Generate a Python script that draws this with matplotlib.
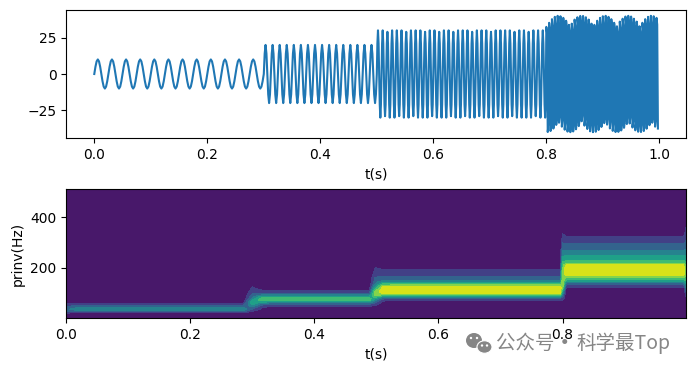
import numpy as np
import matplotlib
matplotlib.use("Agg")
import matplotlib.pyplot as plt
from matplotlib.patches import Ellipse

# ---- upper panel: signal, one row per cycle ----
seg1_start, seg1_step = 0.0, 1 / 480
seg1_values = [
    0, 5, 8.7, 10, 8.7, 5, 0, -5, -8.7, -10, -8.7, -5,
    0, 5, 8.7, 10, 8.7, 5, 0, -5, -8.7, -10, -8.7, -5,
    0, 5, 8.7, 10, 8.7, 5, 0, -5, -8.7, -10, -8.7, -5,
    0, 5, 8.7, 10, 8.7, 5, 0, -5, -8.7, -10, -8.7, -5,
    0, 5, 8.7, 10, 8.7, 5, 0, -5, -8.7, -10, -8.7, -5,
    0, 5, 8.7, 10, 8.7, 5, 0, -5, -8.7, -10, -8.7, -5,
    0, 5, 8.7, 10, 8.7, 5, 0, -5, -8.7, -10, -8.7, -5,
    0, 5, 8.7, 10, 8.7, 5, 0, -5, -8.7, -10, -8.7, -5,
    0, 5, 8.7, 10, 8.7, 5, 0, -5, -8.7, -10, -8.7, -5,
    0, 5, 8.7, 10, 8.7, 5, 0, -5, -8.7, -10, -8.7, -5,
    0, 5, 8.7, 10, 8.7, 5, 0, -5, -8.7, -10, -8.7, -5,
    0, 5, 8.7, 10, 8.7, 5, 0, -5, -8.7, -10, -8.7, -5,
]
seg2_start, seg2_step = 0.3, 1 / 640
seg2_values = [
    0, 14, 20, 14, 0, -14, -20, -14,  0, 14, 20, 14, 0, -14, -20, -14,
    0, 14, 20, 14, 0, -14, -20, -14,  0, 14, 20, 14, 0, -14, -20, -14,
    0, 14, 20, 14, 0, -14, -20, -14,  0, 14, 20, 14, 0, -14, -20, -14,
    0, 14, 20, 14, 0, -14, -20, -14,  0, 14, 20, 14, 0, -14, -20, -14,
    0, 14, 20, 14, 0, -14, -20, -14,  0, 14, 20, 14, 0, -14, -20, -14,
    0, 14, 20, 14, 0, -14, -20, -14,  0, 14, 20, 14, 0, -14, -20, -14,
    0, 14, 20, 14, 0, -14, -20, -14,  0, 14, 20, 14, 0, -14, -20, -14,
    0, 14, 20, 14, 0, -14, -20, -14,  0, 14, 20, 14, 0, -14, -20, -14,
]
seg3_start, seg3_step = 0.5, 1 / 960
seg3_values = [
    0, 21, 30, 21, 0, -21, -30, -21,  0, 21, 30, 21, 0, -21, -29, -21,
    0, 21, 29, 21, 0, -21, -30, -21,  0, 21, 30, 21, 0, -21, -30, -21,
    0, 21, 30, 21, 0, -21, -29, -21,  0, 21, 30, 21, 0, -21, -30, -21,
    0, 21, 29, 21, 0, -21, -30, -21,  0, 21, 30, 21, 0, -21, -29, -21,
    0, 21, 30, 21, 0, -21, -30, -21,  0, 21, 30, 21, 0, -21, -30, -21,
    0, 21, 29, 21, 0, -21, -30, -21,  0, 21, 30, 21, 0, -21, -29, -21,
    0, 21, 30, 21, 0, -21, -30, -21,  0, 21, 29, 21, 0, -21, -30, -21,
    0, 21, 30, 21, 0, -21, -30, -21,  0, 21, 30, 21, 0, -21, -29, -21,
    0, 21, 29, 21, 0, -21, -30, -21,  0, 21, 30, 21, 0, -21, -30, -21,
    0, 21, 30, 21, 0, -21, -29, -21,  0, 21, 30, 21, 0, -21, -30, -21,
    0, 21, 29, 21, 0, -21, -30, -21,  0, 21, 30, 21, 0, -21, -29, -21,
    0, 21, 30, 21, 0, -21, -30, -21,  0, 21, 30, 21, 0, -21, -30, -21,
    0, 21, 29, 21, 0, -21, -30, -21,  0, 21, 30, 21, 0, -21, -29, -21,
    0, 21, 30, 21, 0, -21, -30, -21,  0, 21, 30, 21, 0, -21, -30, -21,
    0, 21, 30, 21, 0, -21, -29, -21,  0, 21, 29, 21, 0, -21, -30, -21,
    0, 21, 30, 21, 0, -21, -30, -21,  0, 21, 30, 21, 0, -21, -30, -21,
    0, 21, 29, 21, 0, -21, -30, -21,  0, 21, 30, 21, 0, -21, -29, -21,
    0, 21, 30, 21, 0, -21, -30, -21,  0, 21, 30, 21, 0, -21, -30, -21,
]
seg4_start, seg4_step = 0.8, 1 / 800
seg4_tops = [
    32.4, 35.2, 37.7, 39.3, 40, 39.7, 38.6, 36.6, 33.8, 34.6,
    37.4, 39, 39.9, 39.9, 39, 37.4, 34.6, 33.8, 36.6, 38.6,
    39.7, 40, 39.3, 37.7, 35.2, 32.8, 36, 38, 39.5, 40,
    39.5, 38, 36, 32.8, 35.2, 37.7, 39.3, 40, 39.7, 38.6,
]
seg4_troughs = [
    -39.9, -39.2, -37.5, -35, -33.5, -36.2, -38.3, -39.6, -40, -39.5,
    -38, -35.8, -32.5, -35.5, -37.8, -39.4, -40, -39.7, -38.5, -36.4,
    -33.8, -34.8, -37.4, -39.1, -39.9, -39.8, -38.8, -37, -34.4, -34,
    -36.8, -38.7, -39.7, -39.9, -39.2, -37.6, -35.2, -33.5, -36.2, -37.5,
]
seg4_shoulder = 0.88  # a second sample close to each peak makes the tops blunt

# ---- lower panel: magnitude columns, in units of the contour level ----
freqs = [1, 18, 22, 26, 30, 36, 43, 50, 59, 66,
         72, 78, 84, 90, 96, 102, 108, 114, 120, 126,
         132, 138, 144, 150, 156, 162, 170, 180, 190, 200,
         212, 220, 230, 240, 250, 270, 295, 325, 335, 400, 512]
col_edge_start = [0, .6, 1.3, 1.9, 2.4, 2.7, 2.4, 1.8, 1.05, .6,
                  .2, 0, 0, 0, 0, 0, 0, 0, 0, 0,
                  0, 0, 0, 0, 0, 0, 0, 0, 0, 0,
                  0, 0, 0, 0, 0, 0, 0, 0, 0, 0, 0]
col_40hz = [0, 0, 1, 2, 3, 3.7, 3, 2, 1, .4,
            .1, 0, 0, 0, 0, 0, 0, 0, 0, 0,
            0, 0, 0, 0, 0, 0, 0, 0, 0, 0,
            0, 0, 0, 0, 0, 0, 0, 0, 0, 0, 0]
col_step_a1 = [0, .1, .4, .8, 1.2, 1.9, 2.8, 3.7, 4.6, 4.6,
               4, 3.3, 2.8, 2.4, 2, 1.7, 1.4, 1.25, 1.1, 1,
               .8, .5, .3, .1, 0, 0, 0, 0, 0, 0,
               0, 0, 0, 0, 0, 0, 0, 0, 0, 0, 0]
col_step_a2 = [0, 0, .1, .3, .5, .8, 1.1, 1.7, 3, 4.6,
               5.6, 5.5, 4.6, 3.4, 2.4, 1.7, 1.2, .9, .6, .3,
               .1, 0, 0, 0, 0, 0, 0, 0, 0, 0,
               0, 0, 0, 0, 0, 0, 0, 0, 0, 0, 0]
col_80hz = [0, 0, 0, 0, 0, .1, .6, 1.3, 2.6, 4.2,
            5.5, 5.5, 4.6, 3.4, 2.3, 1.6, 1.05, .7, .4, .2,
            .1, 0, 0, 0, 0, 0, 0, 0, 0, 0,
            0, 0, 0, 0, 0, 0, 0, 0, 0, 0, 0]
col_step_b1 = [0, 0, 0, 0, 0, 0, .3, 1, 1.8, 2.6,
               3.3, 4.2, 5.2, 6.2, 6.6, 6.5, 6, 5.2, 4.5, 3.9,
               3.3, 2.9, 2.6, 2.4, 2.2, 2, 1.7, 1.4, 1.15, 1.02,
               .6, .3, 0, 0, 0, 0, 0, 0, 0, 0, 0]
col_step_b2 = [0, 0, 0, 0, 0, 0, 0, .5, .7, .9,
               1.4, 2.3, 3.6, 5.3, 6.7, 7.3, 7.6, 7.6, 7.3, 6.9,
               5.8, 4.6, 3.7, 2.9, 2.5, 2.2, 1.85, 1.5, 1.1, .8,
               .4, .1, 0, 0, 0, 0, 0, 0, 0, 0, 0]
col_120hz = [0, 0, 0, 0, 0, 0, 0, 0, 0, .3,
             1, 2, 3.5, 5.3, 6.6, 7.3, 7.7, 7.8, 7.6, 7.2,
             6, 4.7, 3.7, 2.9, 2.5, 2.15, 1.8, 1.45, 1.05, .7,
             .3, .1, 0, 0, 0, 0, 0, 0, 0, 0, 0]
col_step_c = [0, 0, 0, 0, 0, 0, 0, 0, 0, .3,
              1, 1.5, 2, 2.5, 3.1, 3.8, 4.5, 5.2, 6, 6.6,
              6.9, 6.95, 6.95, 6.95, 6.9, 6.9, 6.8, 6.5, 6.2, 5.9,
              5.5, 5.1, 4.7, 4.3, 3.8, 2.95, 2.1, 1.2, 1, .1, 0]
col_200hz = [0, 0, 0, 0, 0, 0, 0, 0, 0, 0,
             0, 0, 0, 0, 0, 0, 0, .2, .7, 1.2,
             1.9, 2.7, 3.7, 4.7, 5.5, 6.2, 7.1, 7.6, 7.8, 7.6,
             7, 5.7, 4.95, 4.4, 3.85, 2.95, 2, 1, .7, 0, 0]
col_edge_end = [0, 0, 0, 0, 0, 0, 0, 0, 0, 0,
                .3, .6, 1, 1.3, 1.6, 1.9, 2.2, 2.5, 2.9, 3.3,
                3.7, 4.1, 4.5, 5, 5.3, 5.6, 5.9, 6.1, 6.2, 6.1,
                5.6, 5.2, 4.8, 4.3, 3.9, 3.1, 2.3, 1.6, 1.4, .5, 0]
col_times = [0, .02, .285, .30, .315, .33, .488, .498, .51, .525,
             .796, .80, .806, .99, .995, .999]
columns = [col_edge_start, col_40hz, col_40hz, col_step_a1, col_step_a2, col_80hz,
           col_80hz, col_step_b1, col_step_b2, col_120hz,
           col_120hz, col_step_c, col_200hz, col_200hz, col_200hz, col_edge_end]
contour_levels = [0, 1, 2, 3, 4, 5, 6, 7, 8]

# ---- assemble ----
def axis_for(values, start, step):
    return start + step * np.arange(len(values))

tops = np.array(seg4_tops)
troughs = np.array(seg4_troughs)
seg4_values = np.column_stack([tops, tops * seg4_shoulder,
                               troughs, troughs * seg4_shoulder]).ravel()[:-1]
t = np.concatenate([
    axis_for(seg1_values, seg1_start, seg1_step),
    axis_for(seg2_values, seg2_start, seg2_step),
    axis_for(seg3_values, seg3_start, seg3_step),
    axis_for(seg4_values, seg4_start, seg4_step),
])
x = np.concatenate([seg1_values, seg2_values, seg3_values, seg4_values])
Z = np.array(columns).T

W, H = 695, 371
fig = plt.figure(figsize=(W / 100, H / 100), dpi=100)
ax1 = fig.add_axes([66.1 / W, 1 - 138 / H, 620 / W, 128 / H])
ax2 = fig.add_axes([66.1 / W, 1 - 318 / H, 620 / W, 129 / H])

ax1.plot(t, x, color="#1f77b4", linewidth=1.5)
ax1.set_xlabel("t(s)")
ax1.set_yticks([-25, 0, 25])

ax2.contourf(col_times, freqs, Z, levels=contour_levels, cmap="viridis", extend="neither")
ax2.set_ylim(1, 512)
ax2.set_xlim(0, 0.999)
ax2.set_xlabel("t(s)")
ax2.set_ylabel("prinv(Hz)")
ax2.set_yticks([200, 400])

# ---- watermark ----
grey = "#868686"
cjk = ["Noto Sans CJK SC", "DejaVu Sans"]
def px(xp, yp):
    return xp / 100, (H - yp) / 100
def blob(xp, yp, wp, hp, **kw):
    fig.add_artist(Ellipse(px(xp, yp), wp / 100, hp / 100,
                           transform=fig.dpi_scale_trans, **kw))
blob(474, 340.5, 16, 15, facecolor=grey, edgecolor="none", zorder=5)
blob(484.5, 347, 15, 12.5, facecolor=grey, edgecolor="white", linewidth=.8, zorder=6)
for ex, ey in [(471, 338), (477, 338), (482, 345.5), (487, 345.5)]:
    blob(ex, ey, 2.4, 2.4, facecolor="white", edgecolor="none", zorder=7)
fig.text(496 / W, 1 - 343.5 / H, "公众号", color=grey, fontsize=14,
         family=cjk, va="center", ha="left", zorder=7)
fig.text(564 / W, 1 - 343.5 / H, "·", color=grey, fontsize=14, fontweight="bold",
         family=cjk, va="center", ha="center", zorder=7)
fig.text(576 / W, 1 - 343.5 / H, "科学最Top", color=grey, fontsize=14,
         family=cjk, va="center", ha="left", zorder=7)

fig.savefig("out.png", dpi=100)
